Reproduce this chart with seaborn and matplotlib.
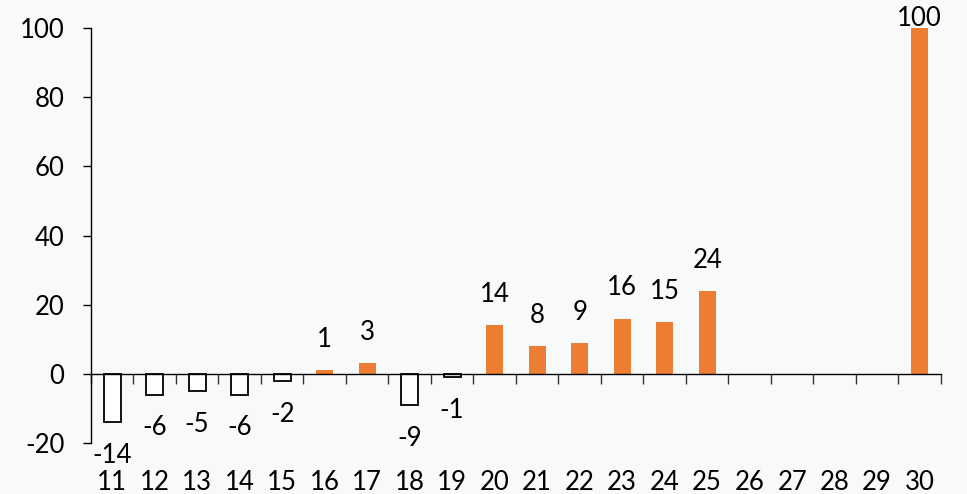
import numpy as np
import pandas as pd
import matplotlib
matplotlib.use("Agg")
import matplotlib.pyplot as plt
import seaborn as sns

# Period labels and values (periods 26-29 have no value)
periods = [str(p) for p in range(11, 31)]
values = [-14, -6, -5, -6, -2, 1, 3, -9, -1, 14, 8, 9, 16, 15, 24,
          None, None, None, None, 100]
y_ticks = [-20, 0, 20, 40, 60, 80, 100]

ORANGE = "#ED7D31"
BG = "#F8F9FB"
FS = 18.5

sns.set_theme(style="white")
plt.rcParams["font.family"] = ["Lato", "DejaVu Sans"]
plt.rcParams["axes.unicode_minus"] = False

df = pd.DataFrame({"period": periods,
                   "value": pd.to_numeric(pd.Series(values), errors="coerce")})

fig = plt.figure(figsize=(9.67, 4.94), dpi=100, facecolor=BG)
ax = fig.add_axes([0.094, 0.1032, 0.879, 0.8401], facecolor=BG)

sns.barplot(data=df, x="period", y="value", order=periods, width=0.4,
            color=ORANGE, ax=ax, errorbar=None)

# Negative bars: white fill with black outline
for patch in ax.patches:
    h = patch.get_height()
    if np.isnan(h):
        continue
    if h < 0:
        patch.set_facecolor("white")
        patch.set_edgecolor("black")
        patch.set_linewidth(1.3)
    else:
        patch.set_facecolor(ORANGE)
        patch.set_edgecolor("none")

ax.set_ylim(-20, 100)
ax.set_xlim(-0.5, len(periods) - 0.5)
ax.set_yticks(y_ticks)
ax.set_xlabel("")
ax.set_ylabel("")

# Spines: left axis, horizontal axis at zero
for side in ["top", "right"]:
    ax.spines[side].set_visible(False)
ax.spines["left"].set_color("black")
ax.spines["left"].set_linewidth(1.0)
ax.spines["bottom"].set_position(("data", 0))
ax.spines["bottom"].set_color("black")
ax.spines["bottom"].set_linewidth(1.0)

ax.tick_params(axis="y", direction="out", length=6, width=1, color="black",
               labelsize=FS, pad=13, left=True)
ax.tick_params(axis="x", which="major", length=0, labelsize=FS, pad=69)
ax.set_xticks(np.arange(-0.5, len(periods), 1.0), minor=True)
ax.tick_params(axis="x", which="minor", direction="out", length=7, width=1,
               color="#333333", bottom=True)
for lbl in ax.get_xticklabels() + ax.get_yticklabels():
    lbl.set_color("black")

# Value labels
ymax = ax.get_ylim()[1]
for i, v in enumerate(df["value"]):
    if np.isnan(v):
        continue
    if v >= 0:
        off = 22 if v < ymax - 8 else 7
    else:
        off = -24
    ax.annotate(f"{int(v)}", xy=(i, v), xytext=(0, off),
                textcoords="offset points", ha="center", va="center",
                fontsize=FS, color="black", annotation_clip=False)

fig.savefig("out.png", dpi=100, facecolor=BG)
